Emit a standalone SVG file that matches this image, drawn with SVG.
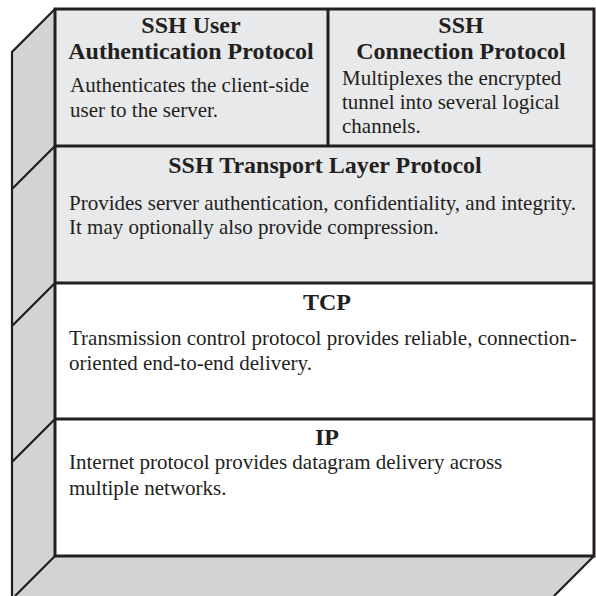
<svg xmlns="http://www.w3.org/2000/svg" width="596" height="596" viewBox="0 0 596 596">
<style>
.t{font-family:"Liberation Serif","Times New Roman",serif;font-weight:bold;font-size:24px;fill:#231f20;text-anchor:middle}
.b{font-family:"Liberation Serif","Times New Roman",serif;font-size:21px;fill:#231f20}
.ln{stroke:#231f20;stroke-width:3;fill:none}
.dg{stroke:#231f20;stroke-width:2.2;fill:none}
</style>
<rect width="596" height="596" fill="#ffffff"/>
<g id="side">
<polygon points="12,52 55,9 55,556 594,556 554,596 12,596" fill="#d1d3d4"/>
</g>
<g id="ssh-user">
<rect x="55" y="9" width="273" height="137" fill="#e8e9ea"/>
<text class="t" x="191" y="33">SSH User</text>
<text class="t" x="191" y="59">Authentication Protocol</text>
<text class="b" x="70" y="92">Authenticates the client-side</text>
<text class="b" x="70" y="117">user to the server.</text>
</g>
<g id="ssh-connection">
<rect x="328" y="9" width="266" height="137" fill="#e8e9ea"/>
<text class="t" x="461" y="33">SSH</text>
<text class="t" x="461" y="59">Connection Protocol</text>
<text class="b" x="342" y="85">Multiplexes the encrypted</text>
<text class="b" x="342" y="109">tunnel into several logical</text>
<text class="b" x="342" y="133">channels.</text>
</g>
<g id="ssh-transport">
<rect x="55" y="146" width="539" height="137" fill="#e8e9ea"/>
<text class="t" x="325" y="173">SSH Transport Layer Protocol</text>
<text class="b" x="69" y="210">Provides server authentication, confidentiality, and integrity.</text>
<text class="b" x="69" y="234">It may optionally also provide compression.</text>
</g>
<g id="tcp">
<rect x="55" y="283" width="539" height="136" fill="#ffffff"/>
<text class="t" x="327" y="310">TCP</text>
<text class="b" x="69" y="345">Transmission control protocol provides reliable, connection-</text>
<text class="b" x="69" y="370">oriented end-to-end delivery.</text>
</g>
<g id="ip">
<rect x="55" y="419" width="539" height="137" fill="#ffffff"/>
<text class="t" x="327" y="445">IP</text>
<text class="b" x="69" y="469">Internet protocol provides datagram delivery across</text>
<text class="b" x="69" y="495">multiple networks.</text>
</g>
<g id="connectors">
<path class="ln" d="M55,9 H594 V556 H55 Z"/>
<path class="ln" d="M55,146 H594 M55,283 H594 M55,419 H594 M328,9 V146"/>
<path class="dg" d="M12,596 V52 L55,9 M55,146 L12,189 M55,283 L12,326 M55,419 L12,462 M55,556 L15,596 M594,556 L554,596"/>
</g>
</svg>
